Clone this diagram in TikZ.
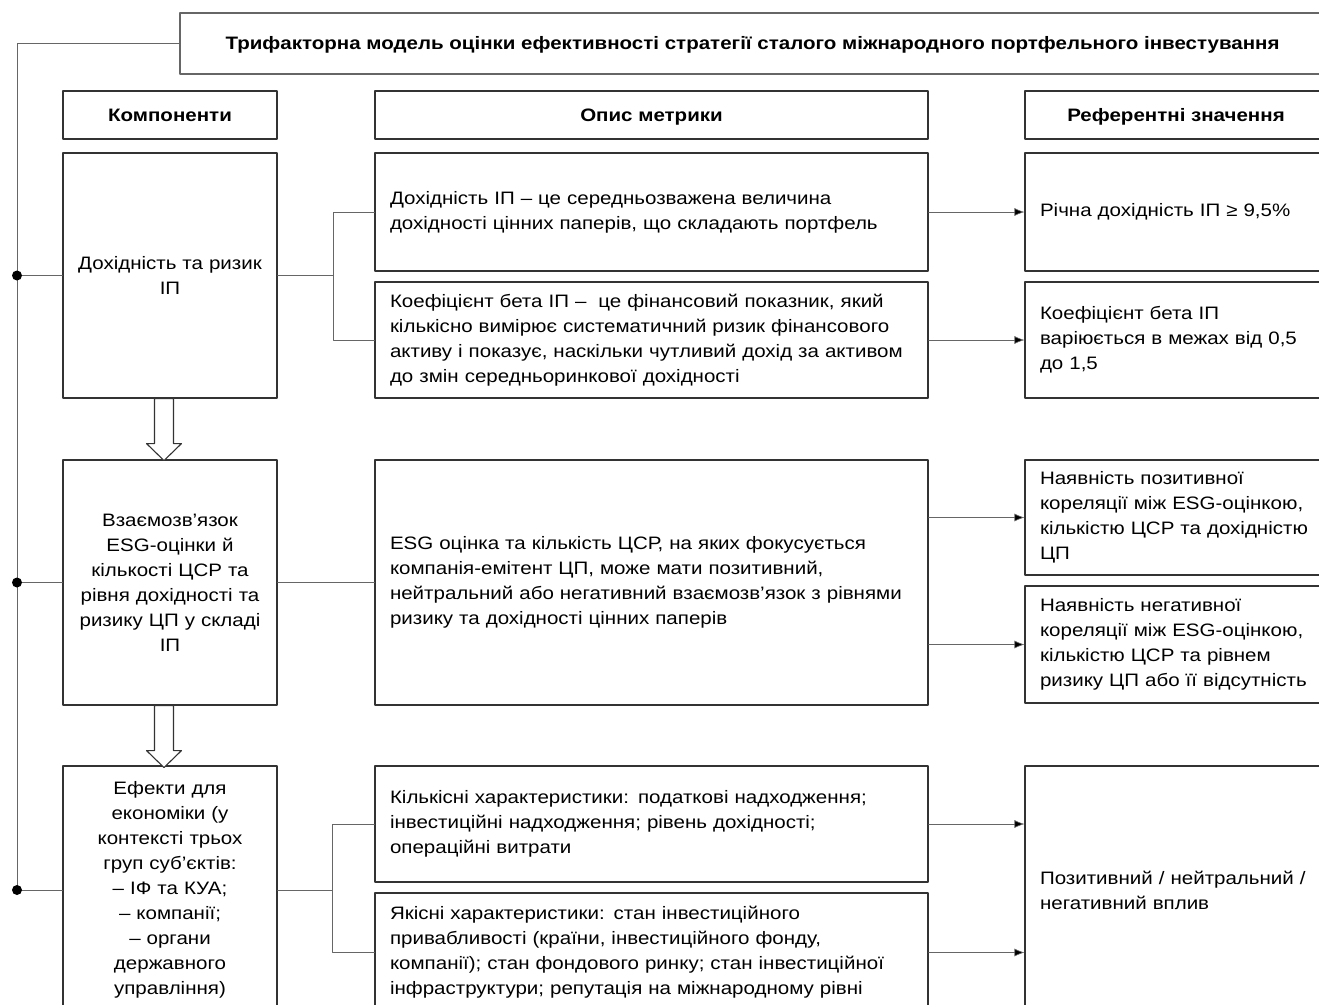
\documentclass[tikz,border=0pt]{standalone}
\usepackage{fontspec}
\setmainfont{Liberation Sans}[FakeStretch=1.14]
\usetikzlibrary{arrows.meta,calc}

\begin{document}
\begin{tikzpicture}[x=1pt, y=-1pt, line cap=round, line join=round,
    frame/.style={draw=black!80, line width=1.1pt, inner xsep=15pt, inner ysep=0pt,
        font=\fontsize{18}{25}\selectfont},
    comptext/.style={frame, text width=198pt, inner xsep=8pt, align=center},
    desctext/.style={frame, text width=523pt, align=left},
    reftext/.style={frame, text width=272pt, align=left},
    headbox/.style={frame, font=\bfseries\fontsize{18}{22}\selectfont, minimum height=48pt,
        text height=15pt, text depth=3pt},
    link/.style={draw=black!60, line width=0.6pt},
    arr/.style={link, -{Latex[length=10pt,width=8pt,fill=black]}},
    hollow/.style={draw=black!80, line width=1.1pt, fill=white}]

\useasboundingbox (0,0) rectangle (1319,1004);
\clip (0,0) rectangle (1319,1004);

% === ЗАГОЛОВОК ===
\node[headbox, draw=black!60, line width=1.6pt, minimum width=1145pt, minimum height=61pt]
    (title) at (752.5,43.5) {Трифакторна модель оцінки ефективності стратегії сталого міжнародного портфельного інвестування};

% === ШАПКА КОЛОНОК ===
\node[headbox, minimum width=214pt] (hcomp) at (170,115) {Компоненти};
\node[headbox, minimum width=553pt] (hdesc) at (651.5,115) {Опис метрики};
\node[headbox, minimum width=302pt] (href) at (1176,115) {Референтні значення};

% === РЯД 1: дохідність та ризик ===
\node[comptext, minimum height=245pt] (comp1) at (170,275.5) {Дохідність та ризик\\ІП};
\node[desctext, minimum height=118pt] (d1a) at (651.5,212)
    {Дохідність ІП – це середньозважена величина\\дохідності цінних паперів, що складають портфель};
\node[desctext, minimum height=116pt] (d1b) at (651.5,340)
    {Коефіцієнт бета ІП –\ \ це фінансовий показник, який\\кількісно вимірює систематичний ризик фінансового\\активу і показує, наскільки чутливий дохід за активом\\до змін середньоринкової дохідності};
\node[reftext, minimum height=118pt] (r1a) at (1176,212) {Річна дохідність ІП ≥ 9,5\%};
\node[reftext, minimum height=116pt] (r1b) at (1176,340)
    {Коефіцієнт бета ІП\\варіюється в межах від 0,5\\до 1,5};

% === РЯД 2: взаємозв'язок ESG ===
\node[comptext, minimum height=245pt] (comp2) at (170,582.5)
    {Взаємозв’язок\\ESG-оцінки й\\кількості ЦСР та\\рівня дохідності та\\ризику ЦП у складі\\ІП};
\node[desctext, minimum height=245pt] (d2) at (651.5,582.5)
    {ESG оцінка та кількість ЦСР, на яких фокусується\\компанія-емітент ЦП, може мати позитивний,\\нейтральний або негативний взаємозв’язок з рівнями\\ризику та дохідності цінних паперів};
\node[reftext, minimum height=115pt] (r2a) at (1176,517.5)
    {Наявність позитивної\\кореляції між ESG-оцінкою,\\кількістю ЦСР та дохідністю\\ЦП};
\node[reftext, minimum height=117pt] (r2b) at (1176,644.5)
    {Наявність негативної\\кореляції між ESG-оцінкою,\\кількістю ЦСР та рівнем\\ризику ЦП або її відсутність};

% === РЯД 3: ефекти для економіки ===
\node[comptext, minimum height=248pt] (comp3) at (170,890)
    {Ефекти для\\економіки (у\\контексті трьох\\груп суб’єктів:\\– ІФ та КУА;\\– компанії;\\– органи\\державного\\управління)};
\node[desctext, minimum height=116pt] (d3a) at (651.5,824)
    {Кількісні характеристики: податкові надходження;\\інвестиційні надходження; рівень дохідності;\\операційні витрати};
\node[desctext, minimum height=119pt] (d3b) at (651.5,952.5)
    {Якісні характеристики: стан інвестиційного\\привабливості (країни, інвестиційного фонду,\\компанії); стан фондового ринку; стан інвестиційної\\інфраструктури; репутація на міжнародному рівні};
\node[reftext, minimum height=248pt] (r3) at (1176,890)
    {Позитивний / нейтральний /\\негативний вплив};

% === ЛІВА ШИНА з точками ===
\coordinate (bus) at (17,0);
\draw[link] (title.west) -| (comp3.west -| bus) -- (comp3.west);
\draw[link] (comp1.west -| bus) -- (comp1.west);
\draw[link] (comp2.west -| bus) -- (comp2.west);
\foreach \n in {comp1,comp2,comp3}{
    \fill (\n.west -| bus) circle (5pt);
}

% === З'ЄДНАННЯ компонент -> опис ===
\coordinate (j1) at ($(comp1.east)+(56,0)$);
\draw[link] (comp1.east) -- (j1);
\draw[link] (d1a.west) -| (j1) |- (d1b.west);
\draw[link] (comp2.east) -- (d2.west);
\coordinate (j3) at ($(comp3.east)+(55,0)$);
\draw[link] (comp3.east) -- (j3);
\draw[link] (d3a.west) -| (j3) |- (d3b.west);

% === СТРІЛКИ опис -> референтні значення ===
\draw[arr] (d1a.east) -- (r1a.west);
\draw[arr] (d1b.east) -- (r1b.west);
\draw[arr] (d2.east |- r2a.west) -- (r2a.west);
\draw[arr] (d2.east |- r2b.west) -- (r2b.west);
\draw[arr] (d3a.east) -- (d3a.east -| r3.west);
\draw[arr] (d3b.east) -- (d3b.east -| r3.west);

% === ПОРОЖНІ СТРІЛКИ між компонентами ===
\foreach \a in {comp1,comp2}{
    \draw[hollow] ($(\a.south)+(-15.5,0)$) -- ++(0,45) -- ++(-8,0) -- ++(17.5,17)
        -- ++(17.5,-17) -- ++(-8,0) -- ++(0,-45) -- cycle;
}

\end{tikzpicture}
\end{document}
